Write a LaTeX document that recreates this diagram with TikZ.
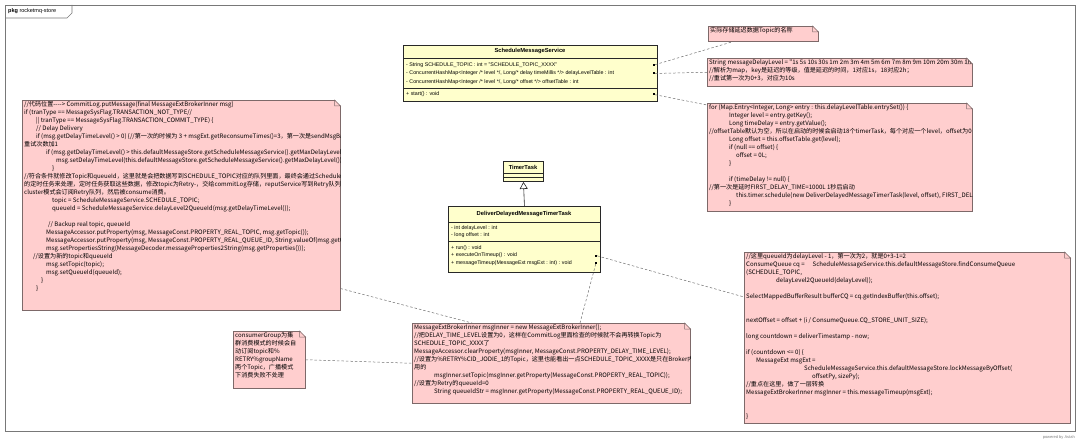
\documentclass[tikz,border=0pt]{standalone}
\usepackage{fontspec}
\setmainfont{Liberation Sans}
\newfontfamily\cjk{Noto Sans CJK SC}
\usetikzlibrary{arrows.meta, positioning, calc}

\definecolor{classbg}{RGB}{255,255,204}
\definecolor{classbd}{RGB}{40,40,40}
\definecolor{notebg}{RGB}{255,206,206}
\definecolor{notebd}{RGB}{125,105,105}
\definecolor{linkgray}{RGB}{110,110,110}
\definecolor{framebd}{RGB}{120,120,120}

\begin{document}
\begin{tikzpicture}[
        x=1pt, y=-1pt,
        umlclass/.style={draw=classbd, fill=classbg, line width=0.9pt, inner sep=0pt, anchor=north west},
        sepline/.style={draw=classbd, line width=0.6pt},
        umlhead/.style={font=\fontsize{5.8}{7}\selectfont\bfseries, inner sep=0pt},
        umlrow/.style={font=\fontsize{5.3}{7}\selectfont, inner sep=0pt, anchor=west},
        pin/.style={fill=black, inner sep=0pt, minimum size=2pt},
        note/.style={draw=notebd, fill=notebg, line width=0.5pt, inner sep=0pt, anchor=north west},
        notetext/.style={font=\cjk\fontsize{6.1}{8}\selectfont, align=left, anchor=north west, inner xsep=2pt, inner ysep=1.5pt},
        link/.style={draw=linkgray, dash pattern=on 2.5pt off 2pt, line width=0.5pt},
        genarrow/.style={-{Triangle[open, length=7pt, width=8pt]}, draw=classbd, line width=0.6pt}
    ]
        \useasboundingbox (0,0) rectangle (1080,441);

        % --- package frame ---
        \draw[framebd, line width=0.6pt] (5,5) rectangle (1075,431);
        \draw[framebd, line width=0.6pt] (5,18) -- (67,18) -- (72,13) -- (72,5);
        \node[anchor=west, inner sep=0pt, font=\fontsize{5.5}{7}\selectfont] (pkg) at (8,11.5) {\textbf{pkg} rocketmq-store};
        \node[anchor=east, inner sep=0pt, text=gray, font=\fontsize{4}{5}\selectfont] (astah) at (1075,437) {powered by Astah};

        % --- ScheduleMessageService ---
        \node[umlclass, minimum width=254, minimum height=56] (sms) at (403,45) {};
        \draw[sepline] (403,58) -- (657,58);
        \draw[sepline] (403,88) -- (657,88);
        \node[umlhead] (sms-name) at (530,51.5) {ScheduleMessageService};
        \node[umlrow] (sms-a1) at (406,65) {- String SCHEDULE\_TOPIC : int = "SCHEDULE\_TOPIC\_XXXX"};
        \node[umlrow] (sms-a2) at (406,73.5) {- ConcurrentHashMap<Integer /* level */, Long/* delay timeMillis */> delayLevelTable : int};
        \node[umlrow] (sms-a3) at (406,82) {- ConcurrentHashMap<Integer /* level */, Long/* offset */> offsetTable : int};
        \node[umlrow] (sms-o1) at (406,94.5) {+ start() : void};
        \node[pin] (sms-p1) at (654,65) {};
        \node[pin] (sms-p2) at (654,73.5) {};
        \node[pin] (sms-p3) at (654,94.5) {};

        % --- TimerTask ---
        \node[umlclass, minimum width=40, minimum height=20] (tt) at (503,161) {};
        \draw[sepline] (503,173) -- (543,173);
        \draw[sepline] (503,177) -- (543,177);
        \node[umlhead] (tt-name) at (523,167) {TimerTask};

        % --- DeliverDelayedMessageTimerTask ---
        \node[umlclass, minimum width=152, minimum height=66] (ddm) at (448,206) {};
        \draw[sepline] (448,222) -- (600,222);
        \draw[sepline] (448,241) -- (600,241);
        \node[umlhead] (ddm-name) at (524,214) {DeliverDelayedMessageTimerTask};
        \node[umlrow] (ddm-a1) at (451,228) {- int delayLevel : int};
        \node[umlrow] (ddm-a2) at (451,235) {- long offset : int};
        \node[umlrow] (ddm-o1) at (451,248) {+ run() : void};
        \node[umlrow] (ddm-o2) at (451,255.5) {+ executeOnTimeup() : void};
        \node[umlrow] (ddm-o3) at (451,263) {+ messageTimeup(MessageExt msgExt : int) : void};
        \node[pin] (ddm-p1) at (596,255.5) {};
        \node[pin] (ddm-p2) at (596,263) {};

        \draw[genarrow] (ddm.north) -- (tt.south);

        % --- notes (text clipped to the note) ---
        \node[note, minimum width=110, minimum height=15] (n1) at (708,26) {};
        \begin{scope}
            \clip (n1.north west) rectangle (n1.south east);
            \node[notetext] (n1-text) at (n1.north west) {实际存储延迟数据Topic的名称};
        \end{scope}

        \node[note, minimum width=265, minimum height=28] (n2) at (707,58) {};
        \begin{scope}
            \clip (n2.north west) rectangle (n2.south east);
            \node[notetext] (n2-text) at (n2.north west) {String messageDelayLevel = "1s 5s 10s 30s 1m 2m 3m 4m 5m 6m 7m 8m 9m 10m 20m 30m 1h 2h";\\
//解析为map，key是延迟的等级，值是延迟的时间，1对应1s，18对应2h；\\
//重试第一次为0+3，对应为10s};
        \end{scope}

        \node[note, minimum width=265, minimum height=108] (n3) at (707,103) {};
        \begin{scope}
            \clip (n3.north west) rectangle (n3.south east);
            \node[notetext] (n3-text) at (n3.north west) {for (Map.Entry<Integer, Long> entry : this.delayLevelTable.entrySet()) \{\\
\hspace*{20pt}Integer level = entry.getKey();\\
\hspace*{20pt}Long timeDelay = entry.getValue();\\
//offsetTable默认为空，所以在启动的时候会启动18个timerTask，每个对应一个level，offset为0\\
\hspace*{20pt}Long offset = this.offsetTable.get(level);\\
\hspace*{20pt}if (null == offset) \{\\
\hspace*{27pt}offset = 0L;\\
\hspace*{20pt}\}\\
\mbox{}\\
\hspace*{20pt}if (timeDelay != null) \{\\
//第一次是延时FIRST\_DELAY\_TIME=1000L 1秒后启动\\
\hspace*{27pt}this.timer.schedule(new DeliverDelayedMessageTimerTask(level, offset), FIRST\_DELAY\_TIME);\\
\hspace*{20pt}\}};
        \end{scope}

        \node[note, minimum width=318, minimum height=210] (n4) at (22,100) {};
        \begin{scope}
            \clip (n4.north west) rectangle (n4.south east);
            \node[notetext] (n4-text) at (n4.north west) {//代码位置-\kern0pt-\kern0pt-\kern0pt-> CommitLog.putMessage(final MessageExtBrokerInner msg)\\
if (tranType == MessageSysFlag.TRANSACTION\_NOT\_TYPE//\\
\hspace*{12pt}|| tranType == MessageSysFlag.TRANSACTION\_COMMIT\_TYPE) \{\\
\hspace*{12pt}// Delay Delivery\\
\hspace*{12pt}if (msg.getDelayTimeLevel() > 0) \{//第一次的时候为 3 + msgExt.getReconsumeTimes()=3，第一次是sendMsgBack后，后续是\\
重试次数加1\\
\hspace*{22pt}if (msg.getDelayTimeLevel() > this.defaultMessageStore.getScheduleMessageService().getMaxDelayLevel()) \{\\
\hspace*{32pt}msg.setDelayTimeLevel(this.defaultMessageStore.getScheduleMessageService().getMaxDelayLevel());\\
\hspace*{28pt}\}\\
//符合条件就修改Topic和queueId，这里就是会把数据写到SCHEDULE\_TOPIC对应的队列里面，最终会通过ScheduleMessageService\\
的定时任务来处理，定时任务获取这些数据，修改topic为Retry-，交给commitLog存储，reputService写到Retry队列，然后consumer为\\
cluster模式会订阅Retry队列，然后被consume消费。\\
\hspace*{28pt}topic = ScheduleMessageService.SCHEDULE\_TOPIC;\\
\hspace*{28pt}queueId = ScheduleMessageService.delayLevel2QueueId(msg.getDelayTimeLevel());\\
\mbox{}\\
\hspace*{24pt}// Backup real topic, queueId\\
\hspace*{22pt}MessageAccessor.putProperty(msg, MessageConst.PROPERTY\_REAL\_TOPIC, msg.getTopic());\\
\hspace*{22pt}MessageAccessor.putProperty(msg, MessageConst.PROPERTY\_REAL\_QUEUE\_ID, String.valueOf(msg.getQueueId()));\\
\hspace*{22pt}msg.setPropertiesString(MessageDecoder.messageProperties2String(msg.getProperties()));\\
\hspace*{9pt}//设置为新的topic和queueId\\
\hspace*{22pt}msg.setTopic(topic);\\
\hspace*{22pt}msg.setQueueId(queueId);\\
\hspace*{17pt}\}\\
\hspace*{12pt}\}};
        \end{scope}

        \node[note, minimum width=326, minimum height=171] (n5) at (744,252) {};
        \begin{scope}
            \clip (n5.north west) rectangle (n5.south east);
            \node[notetext] (n5-text) at (n5.north west) {//这里queueId为delayLevel - 1，第一次为2，就是0+3-1=2\\
ConsumeQueue cq =\hspace*{8pt}ScheduleMessageService.this.defaultMessageStore.findConsumeQueue\\
(SCHEDULE\_TOPIC,\\
\hspace*{30pt}delayLevel2QueueId(delayLevel));\\
\mbox{}\\
SelectMappedBufferResult bufferCQ = cq.getIndexBuffer(this.offset);\\
\mbox{}\\
\mbox{}\\
nextOffset = offset + (i / ConsumeQueue.CQ\_STORE\_UNIT\_SIZE);\\
\mbox{}\\
long countdown = deliverTimestamp - now;\\
\mbox{}\\
if (countdown <= 0) \{\\
\hspace*{10pt}MessageExt msgExt =\\
\hspace*{58pt}ScheduleMessageService.this.defaultMessageStore.lockMessageByOffset(\\
\hspace*{66pt}offsetPy, sizePy);\\
//重点在这里，做了一层转换\\
MessageExtBrokerInner msgInner = this.messageTimeup(msgExt);\\
\mbox{}\\
\mbox{}\\
\}};
        \end{scope}

        \node[note, minimum width=278, minimum height=80] (n6) at (412,323) {};
        \begin{scope}
            \clip (n6.north west) rectangle (n6.south east);
            \node[notetext] (n6-text) at (n6.north west) {MessageExtBrokerInner msgInner = new MessageExtBrokerInner();\\
//把DELAY\_TIME\_LEVEL设置为0，这样在CommitLog里面检查的时候就不会再转换Topic为\\
SCHEDULE\_TOPIC\_XXXX了\\
MessageAccessor.clearProperty(msgInner, MessageConst.PROPERTY\_DELAY\_TIME\_LEVEL);\\
//设置为\%RETRY\%CID\_JODIE\_1的Topic，这里也能看出一点SCHEDULE\_TOPIC\_XXXX是只在Broker内部使\\
用的\\
\hspace*{20pt}msgInner.setTopic(msgInner.getProperty(MessageConst.PROPERTY\_REAL\_TOPIC));\\
//设置为Retry的queueId=0\\
\hspace*{20pt}String queueIdStr = msgInner.getProperty(MessageConst.PROPERTY\_REAL\_QUEUE\_ID);};
        \end{scope}

        \node[note, minimum width=72, minimum height=57] (n7) at (233,331) {};
        \begin{scope}
            \clip (n7.north west) rectangle (n7.south east);
            \node[notetext] (n7-text) at (n7.north west) {consumerGroup为集\\
群消费模式的时候会自\\
动订阅topic和\%\\
RETRY\%groupName\\
两个Topic，广播模式\\
下消费失败不处理};
        \end{scope}

        % folded corners
        \foreach \n in {n1,n2,n3,n4,n5,n6,n7} {
            \fill[white] ($(\n.north east)+(-6,-0.6)$) -- ($(\n.north east)+(0.6,-0.6)$) -- ($(\n.north east)+(0.6,6)$) -- cycle;
            \draw[notebd, line width=0.5pt] ($(\n.north east)+(-6,0)$) -- ($(\n.north east)+(0,6)$) -- ($(\n.north east)+(-6,6)$) -- cycle;
        }

        % --- note links ---
        \draw[link] (sms-p1) -- ($(n1.south west)!0.23!(n1.south east)$);
        \draw[link] (sms-p2) -- (n2.west);
        \draw[link] (sms-p3) -- ($(n3.north west)+(0,2)$);
        \draw[link] (ddm-p1) -- ($(n5.north west)+(0,45)$);
        \draw[link] (ddm-p2) -- ($(n6.north west)+(168,0)$);
        \draw[link] ($(n4.south east)+(0,-22)$) -- ($(n6.north west)+(60,0)$);
        \draw[link] (n7.east) -- (n6.west);

    \end{tikzpicture}
\end{document}
